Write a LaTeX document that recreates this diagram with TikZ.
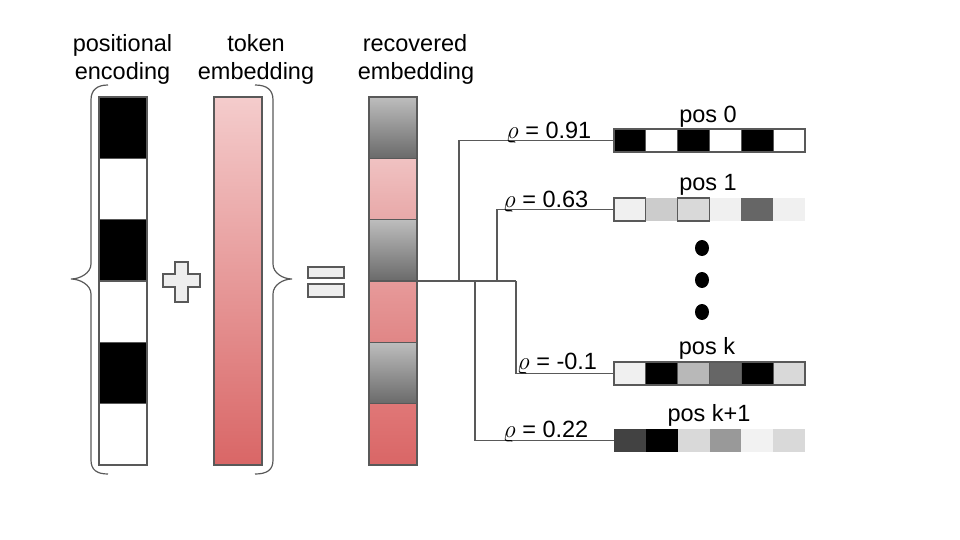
\documentclass[tikz,border=0pt]{standalone}
\usepackage{fontspec}
\setmainfont{Liberation Sans}
\definecolor{edgec}{HTML}{595959}
\definecolor{lightfill}{HTML}{EEEEEE}
\definecolor{tokTop}{HTML}{F4CCCC}
\definecolor{tokBot}{HTML}{D96666}
\definecolor{grayTop}{HTML}{BDBDBD}
\definecolor{grayBot}{HTML}{6A6A6A}
\definecolor{pinkAT}{HTML}{F0C2C2}
\definecolor{pinkAB}{HTML}{E8A8A8}
\definecolor{pinkBT}{HTML}{E79A9A}
\definecolor{pinkBB}{HTML}{E08686}
\definecolor{pinkCT}{HTML}{E07777}
\definecolor{pinkCB}{HTML}{D96666}
\tikzset{
  edge/.style={draw=edgec, line width=1.2pt},
  conn/.style={draw=edgec, line width=1.2pt},
  lbl/.style={anchor=base, inner sep=0pt, font=\fontsize{23.5}{28}\selectfont},
  lblw/.style={anchor=base west, inner sep=0pt, font=\fontsize{23.5}{28}\selectfont},
  colbox/.style={rectangle, inner sep=0pt, outer sep=0pt, anchor=north west, minimum width=48pt},
  vcell/.style={colbox, draw=edgec, line width=1.2pt, minimum height=61.33pt},
  rowbox/.style={rectangle, inner sep=0pt, outer sep=0pt, anchor=north west, minimum width=191pt, minimum height=23pt},
  hcell/.style={rectangle, inner sep=0pt, outer sep=0pt, anchor=north west, minimum width=31.83pt, minimum height=23pt, line width=1.2pt},
  dot/.style={fill=black},
}
\begin{document}
\begin{tikzpicture}[x=1pt,y=-1pt]
\useasboundingbox (0,0) rectangle (960,540);

% headers
\node[lbl] (h1a) at (122.5,52) {positional};
\node[lbl] (h1b) at (122.5,80) {encoding};
\node[lbl] (h2a) at (256,52) {token};
\node[lbl] (h2b) at (256,80) {embedding};
\node[lbl] (h3a) at (415,52) {recovered};
\node[lbl] (h3b) at (416,80) {embedding};

% positional encoding column
\foreach \c [count=\i from 0] in {black,white,black,white,black,white} {
  \node[vcell, fill=\c] (PE\i) at (99,97+\i*61.33) {};
}

% token embedding column
\node[colbox, minimum height=368pt, draw=edgec, line width=1.2pt, top color=tokTop, bottom color=tokBot] (TE) at (214,97) {};

% braces
\draw[edge] (108,85) .. controls (97,85) and (91,90) .. (91,100) -- (91,264)
  .. controls (91,273) and (80,279) .. (71,279)
  .. controls (80,279) and (91,285) .. (91,294) -- (91,460)
  .. controls (91,470) and (97,474) .. (108,474);
\draw[edge] (255,85) .. controls (267,85) and (273,90) .. (273,100) -- (273,264)
  .. controls (273,273) and (283,279) .. (292,279)
  .. controls (283,279) and (273,285) .. (273,294) -- (273,460)
  .. controls (273,470) and (267,474) .. (255,474);

% plus
\draw[edge, fill=lightfill] (175,262) -- (188,262) -- (188,274) -- (200,274) -- (200,287)
  -- (188,287) -- (188,302) -- (175,302) -- (175,287) -- (163,287) -- (163,274) -- (175,274) -- cycle;

% equals
\draw[edge, fill=lightfill] (308,267) rectangle (344,278);
\draw[edge, fill=lightfill] (308,284) rectangle (344,297);

% recovered embedding column
\node[vcell, top color=grayTop, bottom color=grayBot] (R0) at (369,97) {};
\node[vcell, top color=pinkAT, bottom color=pinkAB] (R1) at (369,158.33) {};
\node[vcell, top color=grayTop, bottom color=grayBot] (R2) at (369,219.67) {};
\node[vcell, top color=pinkBT, bottom color=pinkBB] (R3) at (369,281) {};
\node[vcell, top color=grayTop, bottom color=grayBot] (R4) at (369,342.33) {};
\node[vcell, top color=pinkCT, bottom color=pinkCB] (R5) at (369,403.67) {};

% rows
\node[rowbox] (P0) at (614,129) {};
\node[rowbox] (P1) at (614,198) {};
\node[rowbox] (PK) at (614,362) {};
\node[rowbox] (PK1) at (614,429) {};

\foreach \c [count=\i from 0] in {black,white,black,white,black,white}
  \node[hcell, fill=\c, draw=edgec] at (614+\i*31.83,129) {};
\foreach \c/\d [count=\i from 0] in {black!6/edgec, black!20/none, black!15/edgec, black!6/none, black!60/none, black!6/none}
  \node[hcell, fill=\c, draw=\d] at (614+\i*31.83,198) {};
\foreach \c [count=\i from 0] in {black!6, black, black!28, black!60, black, black!15}
  \node[hcell, fill=\c, draw=edgec] at (614+\i*31.83,362) {};
\foreach \c [count=\i from 0] in {black!74, black, black!15, black!40, black!5, black!15}
  \node[hcell, fill=\c] at (614+\i*31.83,429) {};

% row labels
\node[lbl] (L0) at (708,123) {pos 0};
\node[lbl] (L1) at (708,190) {pos 1};
\node[lbl] (LK) at (707,354) {pos k};
\node[lbl] (LK1) at (709,421) {pos k+1};

% dots
\fill[dot] (702,248) ellipse (7 and 8);
\fill[dot] (702,280) ellipse (7 and 8);
\fill[dot] (702,312) ellipse (7 and 8);

% connectors
\coordinate (J) at (516,281);
\coordinate (J0) at (459,281);
\coordinate (J1) at (497,281);
\coordinate (J3) at (475,281);
\draw[conn] (R3.north east) -- (J);
\draw[conn] (J0) |- (P0.west);
\draw[conn] (J1) |- (P1.west);
\draw[conn] (J) |- (PK.west);
\draw[conn] (J3) |- (PK1.west);

% correlation labels
\node[lblw] (C0) at (506,139) {$\varrho$ = 0.91};
\node[lblw] (C1) at (503,207) {$\varrho$ = 0.63};
\node[lblw] (CK) at (517,369) {$\varrho$ = -0.1};
\node[lblw] (CK1) at (503,437) {$\varrho$ = 0.22};
\end{tikzpicture}
\end{document}
